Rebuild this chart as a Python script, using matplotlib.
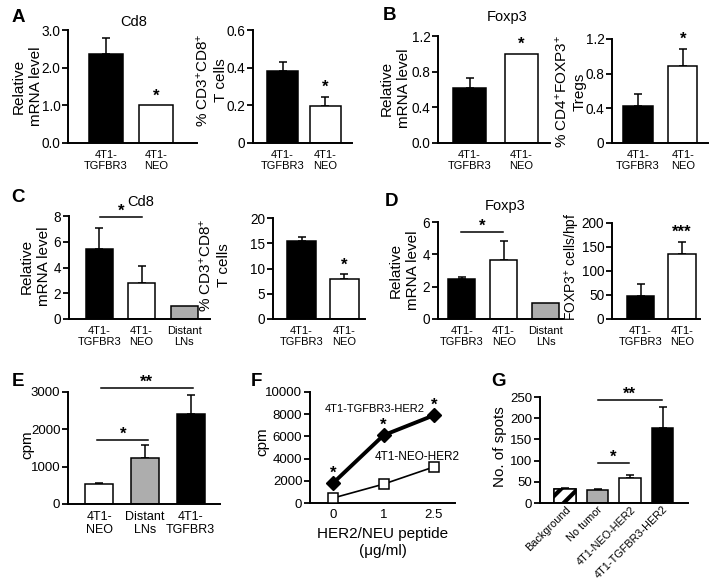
import matplotlib
matplotlib.use("Agg")
import matplotlib.pyplot as plt

plt.rcParams["font.family"] = ["Liberation Sans", "DejaVu Sans"]
plt.rcParams["mathtext.fontset"] = "custom"
plt.rcParams["mathtext.rm"] = "Liberation Sans"
plt.rcParams["mathtext.it"] = "Liberation Sans"
plt.rcParams["mathtext.bf"] = "Liberation Sans:bold"
plt.rcParams["hatch.linewidth"] = 3.0

# ---- data ----
lab2 = ["4T1-\nTGFBR3", "4T1-\nNEO"]
lab3 = ["4T1-\nTGFBR3", "4T1-\nNEO", "Distant\nLNs"]

a1_vals = [2.35, 1.0]
a1_err = [0.45, 0.0]
a2_vals = [0.38, 0.195]
a2_err = [0.05, 0.05]

b1_vals = [0.62, 1.0]
b1_err = [0.11, 0.0]
b2_vals = [0.43, 0.89]
b2_err = [0.14, 0.20]

c1_vals = [5.4, 2.8, 1.0]
c1_err = [1.65, 1.35, 0.0]
c2_vals = [15.4, 7.9]
c2_err = [0.9, 1.0]

d1_vals = [2.45, 3.65, 1.0]
d1_err = [0.12, 1.2, 0.0]
d2_vals = [47, 135]
d2_err = [25, 25]

e_labels = ["4T1-\nNEO", "Distant\nLNs", "4T1-\nTGFBR3"]
e_vals = [540, 1230, 2400]
e_err = [30, 350, 530]

f_doses = ["0", "1", "2.5"]
f_tgfbr3 = [1800, 6100, 7900]
f_neo = [450, 1700, 3250]

g_labels = ["Background", "No tumor", "4T1-NEO-HER2", "4T1-TGFBR3-HER2"]
g_vals = [33, 31, 58, 178]
g_err = [3, 3, 8, 48]

GREY = "#adadad"
W, H = 718, 580
fig = plt.figure(figsize=(W / 100, H / 100), dpi=100)


def px_axes(x0, ytop, x1, ybot):
    return fig.add_axes([x0 / W, 1 - ybot / H, (x1 - x0) / W, (ybot - ytop) / H])


def style(ax, ymax, ticks, ticklabels, xlim, ysize=9.8):
    for s in ["top", "right"]:
        ax.spines[s].set_visible(False)
    ax.spines["left"].set_linewidth(1.4)
    ax.spines["bottom"].set_linewidth(1.4)
    ax.set_ylim(0, ymax)
    ax.set_xlim(*xlim)
    ax.set_yticks(ticks, ticklabels)
    ax.tick_params(axis="y", length=4, width=1.3, labelsize=ysize, pad=1.5)
    ax.tick_params(axis="x", length=0, labelsize=8, pad=5)
    ax.patch.set_visible(False)


def bars(ax, vals, errs, colors, labels, width):
    pos = list(range(len(vals)))
    ax.bar(pos, vals, width=width, color=colors, edgecolor="black", linewidth=1.1, zorder=2)
    for p, v, e in zip(pos, vals, errs):
        if e > 0:
            ax.errorbar(p, v, yerr=[[0], [e]], fmt="none", ecolor="black",
                        elinewidth=1.1, capsize=3, capthick=1.1, zorder=1)
    ax.set_xticks(pos, labels)
    for t in ax.get_xticklabels():
        t.set_linespacing(1.15)


def star(ax, x, y, s="*"):
    ax.annotate(s, (x, y), xytext=(0, 0), textcoords="offset points",
                ha="center", va="bottom", fontsize=12, fontweight="bold", clip_on=False)


def sig(ax, x0, x1, y, s):
    ax.plot([x0, x1], [y, y], color="black", lw=1.1, clip_on=False)
    ax.annotate(s, ((x0 + x1) / 2, y), xytext=(0, -1), textcoords="offset points",
                ha="center", va="bottom", fontsize=12, fontweight="bold", annotation_clip=False)


def ylab(x, y, s, size=11):
    fig.text(x / W, 1 - y / H, s, rotation=90, ha="center", va="center",
             fontsize=size, linespacing=1.3)


def letter(x, y, s):
    fig.text(x / W, 1 - y / H, s, ha="center", va="center", fontsize=13.5, fontweight="bold")


def title(x, y, s):
    fig.text(x / W, 1 - y / H, s, ha="center", va="center", fontsize=10.5)


# ---- A ----
ax = px_axes(68, 30, 197, 143)
bars(ax, a1_vals, a1_err, ["black", "white"], lab2, 0.68)
style(ax, 3.0, [0, 1, 2, 3], ["0.0", "1.0", "2.0", "3.0"], (-0.76, 1.82))
star(ax, 1, a1_vals[1] + 0.05)
ylab(27, 86, "Relative\nmRNA level")
title(134, 22, "Cd8")
letter(18, 17, "A")

ax = px_axes(253, 30, 352, 143)
bars(ax, a2_vals, a2_err, ["black", "white"], lab2, 0.72)
style(ax, 0.6, [0, 0.2, 0.4, 0.6], ["0", "0.2", "0.4", "0.6"], (-0.69, 1.62))
star(ax, 1, a2_vals[1] + a2_err[1] + 0.01)
ylab(211, 80, "% CD3$^{+}$CD8$^{+}$\nT cells")

# ---- B ----
ax = px_axes(438, 36, 550, 143)
bars(ax, b1_vals, b1_err, ["black", "white"], lab2, 0.64)
style(ax, 1.2, [0, 0.4, 0.8, 1.2], ["0.0", "0.4", "0.8", "1.2"], (-0.61, 1.55))
star(ax, 1, b1_vals[1] + 0.02)
ylab(395, 88, "Relative\nmRNA level")
title(507, 17, "Foxp3")
letter(390, 16, "B")

ax = px_axes(612, 39, 708, 143)
bars(ax, b2_vals, b2_err, ["black", "white"], lab2, 0.65)
style(ax, 1.2, [0, 0.4, 0.8, 1.2], ["0", "0.4", "0.8", "1.2"], (-0.58, 1.56))
star(ax, 1, b2_vals[1] + b2_err[1] + 0.02)
ylab(570, 92, "% CD4$^{+}$FOXP3$^{+}$\nTregs")

# ---- C ----
ax = px_axes(69, 216, 210, 319)
bars(ax, c1_vals, c1_err, ["black", "white", GREY], lab3, 0.64)
style(ax, 8, [0, 2, 4, 6, 8], ["0", "2", "4", "6", "8"], (-0.71, 2.61))
sig(ax, 0.02, 1.0, 7.9, "*")
ylab(35, 266, "Relative\nmRNA level")
title(141, 202, "Cd8")
letter(18, 197, "C")

ax = px_axes(273, 218, 365, 319)
bars(ax, c2_vals, c2_err, ["black", "white"], lab2, 0.68)
style(ax, 20, [0, 5, 10, 15, 20], ["0", "5", "10", "15", "20"], (-0.67, 1.49))
star(ax, 1, c2_vals[1] + c2_err[1] + 0.3)
ylab(214, 265, "% CD3$^{+}$CD8$^{+}$\nT cells")

# ---- D ----
ax = px_axes(438, 222, 563, 319)
bars(ax, d1_vals, d1_err, ["black", "white", GREY], lab3, 0.64)
style(ax, 6, [0, 2, 4, 6], ["0", "2", "4", "6"], (-0.57, 2.42))
sig(ax, -0.03, 0.98, 5.38, "*")
ylab(404, 270, "Relative\nmRNA level")
title(505, 206, "Foxp3")
letter(391, 202, "D")

ax = px_axes(612, 223, 700, 319)
bars(ax, d2_vals, d2_err, ["black", "white"], lab2, 0.66)
style(ax, 200, [0, 50, 100, 150, 200], ["0", "50", "100", "150", "200"], (-0.69, 1.43))
star(ax, 1, d2_vals[1] + d2_err[1] + 5, "***")
ylab(573, 267, "FOXP3$^{+}$ cells/hpf", size=10)

# ---- E ----
ax = px_axes(68, 392, 220, 504)
bars(ax, e_vals, e_err, ["white", GREY, "black"], e_labels, 0.61)
style(ax, 3000, [0, 1000, 2000, 3000], ["0", "1000", "2000", "3000"], (-0.68, 2.64), ysize=9.5)
ax.tick_params(axis="x", labelsize=9)
sig(ax, -0.04, 1.07, 1714, "*")
sig(ax, 0.03, 2.05, 3107, "**")
ylab(27, 445, "cpm")
letter(18, 382, "E")

# ---- F ----
ax = px_axes(310, 392, 455, 503)
xs = list(range(len(f_doses)))
ax.plot(xs, f_neo, color="black", lw=1.2, marker="s", markersize=7,
        markerfacecolor="white", markeredgecolor="black", markeredgewidth=1.1,
        clip_on=False, zorder=3)
ax.plot(xs, f_tgfbr3, color="black", lw=2.8, marker="D", markersize=7,
        markerfacecolor="black", clip_on=False, zorder=4)
style(ax, 10000, [0, 2000, 4000, 6000, 8000, 10000],
      ["0", "2000", "4000", "6000", "8000", "10000"], (-0.46, 2.42), ysize=9.5)
ax.set_xticks(xs, f_doses)
ax.tick_params(axis="x", labelsize=9.5, pad=4)
for x, y in zip(xs, f_tgfbr3):
    ax.annotate("*", (x, y), xytext=(0, 1.5), textcoords="offset points",
                ha="center", va="bottom", fontsize=12, fontweight="bold")
ax.text(0.83, 8500, "4T1-TGFBR3-HER2", ha="center", va="center", fontsize=8)
ax.text(1.66, 4150, "4T1-NEO-HER2", ha="center", va="center", fontsize=8.5)
ylab(262, 442, "cpm")
fig.text(383 / W, 1 - 534 / H, "HER2/NEU peptide", ha="center", va="center", fontsize=11)
fig.text(383 / W, 1 - 551 / H, "(\u03bcg/ml)", ha="center", va="center", fontsize=11)
letter(256, 381, "F")

# ---- G ----
ax = px_axes(540, 397, 688, 503)
gpos = list(range(len(g_vals)))
ax.bar(gpos, g_vals, width=0.66, color=["white", GREY, "white", "black"],
       edgecolor="black", linewidth=1.1, zorder=2)
ax.bar(gpos[0], g_vals[0], width=0.66, color="white", edgecolor="black",
       hatch="//", linewidth=1.1, zorder=2)
for p, v, e in zip(gpos, g_vals, g_err):
    ax.errorbar(p, v, yerr=[[0], [e]], fmt="none", ecolor="black",
                elinewidth=1.1, capsize=3, capthick=1.1, zorder=1)
style(ax, 250, [0, 50, 100, 150, 200, 250], ["0", "50", "100", "150", "200", "250"],
      (-0.77, 3.78), ysize=9.5)
ax.set_xticks(gpos, g_labels)
ax.tick_params(axis="x", labelsize=7.8, pad=1)
for t in ax.get_xticklabels():
    t.set_rotation(45)
    t.set_ha("right")
    t.set_rotation_mode("anchor")
sig(ax, 1.0, 1.98, 94, "*")
sig(ax, 1.0, 2.98, 243, "**")
ylab(500, 447, "No. of spots")
letter(498, 382, "G")

fig.savefig("out.png", dpi=100)
